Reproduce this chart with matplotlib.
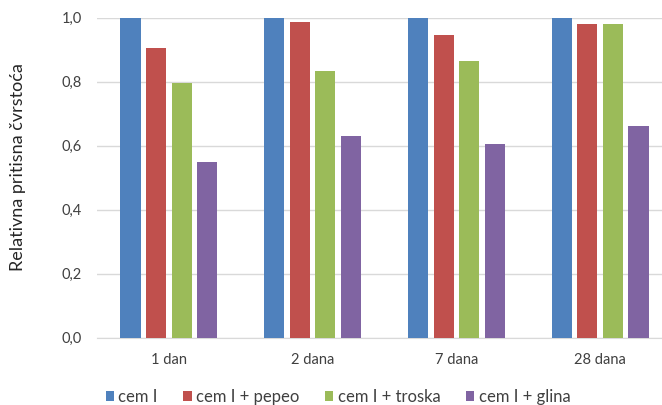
import matplotlib
matplotlib.use("Agg")
import matplotlib.pyplot as plt
import numpy as np

categories = ["1 dan", "2 dana", "7 dana", "28 dana"]
series_names = ["cem I", "cem I + pepeo", "cem I + troska", "cem I + glina"]
cem_i = [1.0, 1.0, 1.0, 1.0]
cem_i_pepeo = [0.904, 0.986, 0.946, 0.979]
cem_i_troska = [0.796, 0.833, 0.864, 0.979]
cem_i_glina = [0.549, 0.631, 0.604, 0.661]
y_ticks = [0.0, 0.2, 0.4, 0.6, 0.8, 1.0]
y_tick_labels = ["0,0", "0,2", "0,4", "0,6", "0,8", "1,0"]

colors = ["#4F81BD", "#C0504D", "#9BBB59", "#8064A2"]
values = [cem_i, cem_i_pepeo, cem_i_troska, cem_i_glina]

plt.rcParams["font.family"] = ["Lato", "DejaVu Sans"]

W, H = 662, 405
fig = plt.figure(figsize=(W / 100, H / 100), dpi=100)
left, right, top, bottom = 97, 672, 17.5, 337.7
ax = fig.add_axes([left / W, 1 - bottom / H, (right - left) / W, (bottom - top) / H])

x = np.arange(len(categories))
slot = 0.178
bar_w = 0.14
for i, (name, vals, c) in enumerate(zip(series_names, values, colors)):
    offs = (i - 1.5) * slot
    ax.bar(x + offs, vals, width=bar_w, color=c, label=name, zorder=3)

ax.set_xlim(-0.5, len(categories) - 0.5)
ax.set_ylim(0, 1.0)
ax.set_yticks(y_ticks)
ax.set_yticklabels(y_tick_labels)
ax.set_xticks(x)
ax.set_xticklabels(categories)
ax.yaxis.grid(True, color="#D9D9D9", linewidth=1, zorder=0)
ax.set_axisbelow(True)
for s in ["top", "right", "left"]:
    ax.spines[s].set_visible(False)
ax.spines["bottom"].set_color("#D9D9D9")
ax.tick_params(axis="both", length=0, colors="#404040", labelsize=10.5)
ax.tick_params(axis="y", pad=11)
ax.tick_params(axis="x", pad=11)

fig.text(18 / W, 1 - 167 / H, "Relativna pritisna čvrstoća", rotation=90,
         ha="center", va="center", fontsize=13, color="#262626")

handles, labels = ax.get_legend_handles_labels()
fig.legend(handles, labels, loc="center", bbox_to_anchor=(338 / W, 1 - 397 / H),
           ncol=4, frameon=False, fontsize=12, handlelength=0.5, handleheight=0.5,
           handletextpad=0.25, columnspacing=1.55, labelcolor="#404040",
           borderpad=0, borderaxespad=0)

fig.savefig("out.png", dpi=100)
